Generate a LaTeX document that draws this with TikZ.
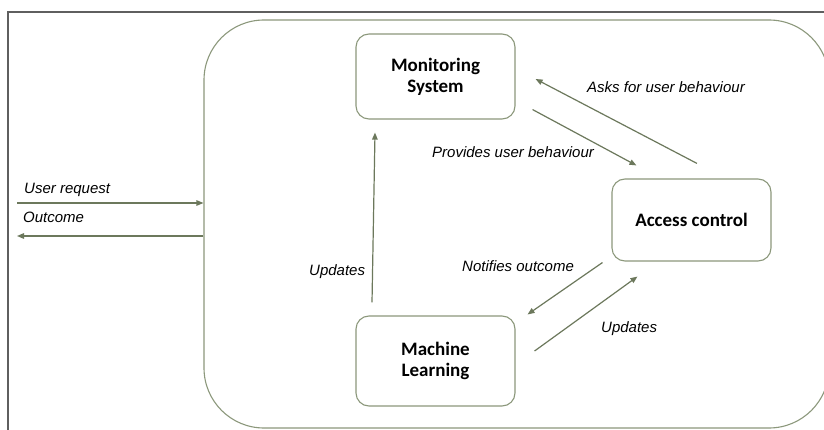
\documentclass[tikz,border=0pt]{standalone}
\usepackage{fontspec}
\setmainfont{Liberation Sans}
\newfontfamily\boxfont{Carlito}
\usetikzlibrary{arrows.meta}
\definecolor{boxline}{RGB}{140,152,124}
\definecolor{arrowline}{RGB}{108,120,92}
\definecolor{frameline}{RGB}{95,95,95}
\tikzset{
  unit/.style={draw=boxline, line width=1.1pt, rounded corners=13pt, fill=white,
    minimum width=159pt, align=center, inner sep=0pt,
    font=\boxfont\bfseries\fontsize{19}{21}\selectfont},
  flow/.style={draw=arrowline, line width=1.2pt, -{Triangle[length=7pt,width=5.5pt]}},
  plain/.style={draw=arrowline, line width=1.2pt},
  lbl/.style={anchor=base west, inner sep=0pt, font=\itshape\fontsize{15}{18}\selectfont}
}
\begin{document}
\begin{tikzpicture}[x=1pt,y=-1pt]
  \useasboundingbox (0,0) rectangle (824,430);
  \clip (0,0) rectangle (824,430);
  \fill[white] (0,0) rectangle (824,430);

  % outer frame (top and left edges)
  \draw[frameline, line width=2pt] (8,431) -- (8,12) -- (825,12);

  % system boundary
  \node[draw=boxline, line width=1.1pt, rounded corners=60pt, inner sep=0pt,
        minimum width=625pt, minimum height=408pt] (sys) at (516.5,224) {};

  % components
  \node[unit, minimum height=85pt] (ms) at (435.5,76.5) {Monitoring\\System};
  \node[unit, minimum height=82pt] (ac) at (691.5,220) {Access control};
  \node[unit, minimum height=90pt] (ml) at (435.5,361) {Machine\\Learning};

  % external request / response
  \coordinate (req) at (17,203);
  \coordinate (out) at (17,236);
  \draw[flow] (req) -- ([shift={(0,-21)}]sys.west);
  \draw[flow] ([shift={(0,12)}]sys.west) -- (out);
  \node[lbl] (lreq) at (24,194) {User request};
  \node[lbl] (lout) at (23,223) {Outcome};

  % monitoring <-> access control
  \draw[flow] ([shift={(5.5,-15)}]ac.north) -- ([shift={(20,2.5)}]ms.east);
  \draw[flow] ([shift={(17,-10)}]ms.south east) -- ([shift={(25,-13)}]ac.north west);
  \node[lbl] (lasks) at (587,93) {Asks for user behaviour};
  \node[lbl] (lprov) at (432,158) {Provides user behaviour};

  % access control <-> machine learning
  \draw[flow] ([shift={(-9,1)}]ac.south west) -- ([shift={(12,-1)}]ml.north east);
  \draw[flow] ([shift={(19,-10)}]ml.east) -- ([shift={(26,15)}]ac.south west);
  \node[lbl] (lnot) at (462,272) {Notifies outcome};
  \node[lbl] (lupd2) at (601,332) {Updates};

  % machine learning -> monitoring
  \draw[flow] ([shift={(-63.5,-13)}]ml.north) -- ([shift={(-60.5,13)}]ms.south);
  \node[lbl] (lupd1) at (309,276) {Updates};
\end{tikzpicture}
\end{document}
